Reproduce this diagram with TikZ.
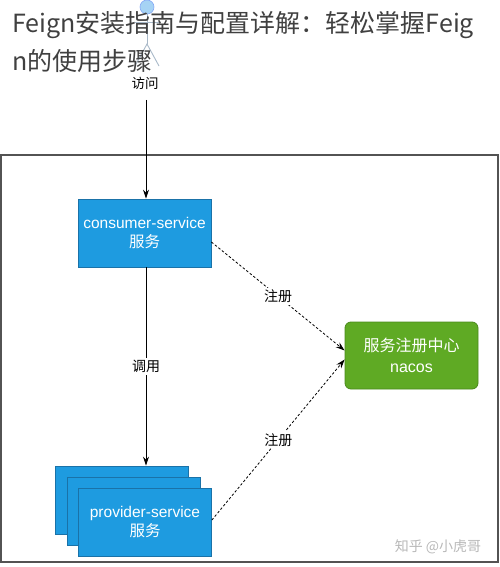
\documentclass[tikz,border=0pt]{standalone}
\usepackage{fontspec}
\setmainfont{Liberation Sans}
\newfontfamily\cjk{Noto Sans CJK SC}
\usetikzlibrary{arrows.meta}
\definecolor{svcblue}{HTML}{1E9BE0}
\definecolor{svcborder}{HTML}{1A72A8}
\definecolor{nacgreen}{HTML}{5FAA24}
\definecolor{nacborder}{HTML}{4A8A1C}
\definecolor{titlegray}{HTML}{404040}
\definecolor{figline}{HTML}{A8B8C8}
\definecolor{fighead}{HTML}{A6D3F4}
\begin{document}
\begin{tikzpicture}[x=1pt,y=-1pt,
  svc/.style={draw=svcborder, line width=0.8pt, fill=svcblue, minimum width=133pt, minimum height=68pt,
    text=white, font=\fontsize{15.5}{19}\selectfont, align=center, inner sep=0pt},
  regbox/.style={draw=nacborder, line width=0.8pt, fill=nacgreen, rounded corners=6pt, minimum width=133pt, minimum height=67pt,
    text=white, font=\fontsize{16}{21}\selectfont, align=center, inner sep=0pt},
  lbl/.style={fill=white, inner sep=2pt, font=\cjk\fontsize{14}{16}\selectfont, text=black},
  arr/.style={line width=0.9pt, -{Stealth[length=9pt,width=6pt]}},
  darr/.style={line width=0.8pt, dash pattern=on 2.5pt off 2pt, -{Stealth[length=9pt,width=6pt]}},
  fig/.style={draw=figline, line width=0.9pt}
]
\useasboundingbox (0,0) rectangle (500,567);

% outer frame
\draw[draw=titlegray!90, line width=1.3pt] (1,155) rectangle (498,562);

% stick figure
\draw[fig] (147,14) -- (147,44);
\draw[fig] (135,22) -- (159,22);
\draw[fig] (135,66) -- (147,44) -- (159,66);
\draw[draw=fighead!80!blue, fill=fighead, line width=0.6pt] (147,7) circle (7);
\node[font=\cjk\fontsize{13.5}{15}\selectfont, text=black] (visit) at (145,83) {访问};

% title
\node[anchor=base west, inner sep=0pt, text=titlegray, font=\cjk\fontsize{25}{30}\selectfont] (t1) at (12,33) {Feign安装指南与配置详解：轻松掌握Feig};
\node[anchor=base west, inner sep=0pt, text=titlegray, font=\cjk\fontsize{25}{30}\selectfont] (t2) at (12,71) {n的使用步骤};

% nodes
\node[svc] (consumer) at (144.5,233) {consumer-service\\{\cjk 服务}};
\node[svc] (back) at (122,500) {};
\node[svc] (mid) at (133.5,511) {};
\node[svc] (front) at (145,522) {provider-service\\{\cjk 服务}};
\node[regbox] (nacos) at (411.5,355.5) {{\cjk 服务注册中心}\\nacos};

% start coordinate of access arrow
\coordinate (visitstart) at (146,100);
\draw[arr] (visitstart) -- (visitstart |- consumer.north);

% call arrow
\draw[arr] ([xshift=1.5pt]consumer.south) -- ([xshift=1.5pt]consumer.south |- back.north)
  node[lbl, midway] {调用};

% register arrows
\draw[darr] ([yshift=-9pt]consumer.east) -- ([yshift=5pt]nacos.west)
  node[lbl, midway] {注册};
\draw[darr] ([yshift=2pt]front.east) -- ([yshift=-4pt]nacos.west)
  node[lbl, midway] {注册};

% watermark
\node[font=\cjk\fontsize{14}{16}\selectfont, text=black!28] (wm) at (438,547) {知乎 @小虎哥};
\end{tikzpicture}
\end{document}
